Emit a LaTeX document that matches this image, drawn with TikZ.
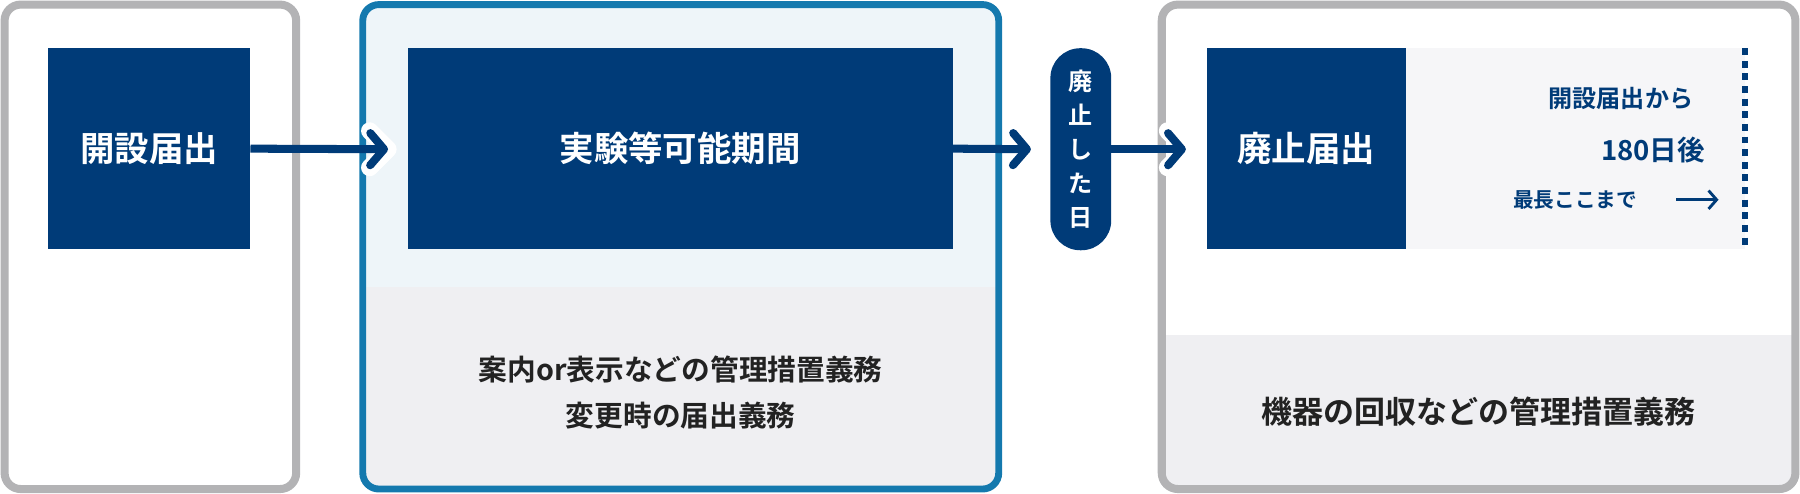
\documentclass[tikz,border=0pt]{standalone}
\usepackage{fontspec}
\setmainfont{Noto Sans CJK JP}[BoldFont={Noto Sans CJK JP Bold}]
\usetikzlibrary{arrows.meta}
\definecolor{navy}{HTML}{003B78}
\definecolor{gborder}{HTML}{B3B3B5}
\definecolor{bborder}{HTML}{1479AE}
\definecolor{lightblue}{HTML}{EEF5F9}
\definecolor{lightgray}{HTML}{EFEFF2}
\definecolor{panel}{HTML}{F6F6F8}
\definecolor{txt}{HTML}{222222}
\tikzset{
  navybox/.style={fill=navy,text=white,font=\bfseries\fontsize{30}{30}\selectfont},
  bigarrow/.style={navy,line width=7pt,-{Straight Barb[length=12pt,width=28pt,line width=7pt,round]}},
  halo/.style={white,line width=15pt,line cap=round,line join=round},
  bodytxt/.style={text=txt,font=\bfseries\fontsize{25}{40}\selectfont,align=center},
  paneltxt/.style={text=navy,font=\bfseries\fontsize{21}{21}\selectfont}
}
\begin{document}
\begin{tikzpicture}[x=1pt,y=-1pt]
\useasboundingbox (0,0) rectangle (1568,430);
% box 1
\draw[gborder,line width=7pt,fill=white,rounded corners=14pt] (4,4) rectangle (258,426);
\node[navybox,minimum width=176pt,minimum height=175pt,inner sep=0] (n1) at (130,129.5) {開設届出};
% box 2
\fill[lightgray,rounded corners=14pt] (316,4) rectangle (870,426);
\fill[lightblue,rounded corners=14pt] (316,4) rectangle (870,40);
\fill[lightblue] (316,20) rectangle (870,250);
\draw[bborder,line width=6pt,rounded corners=14pt] (316,4) rectangle (870,426);
\node[navybox,minimum width=475pt,minimum height=175pt,inner sep=0] (n2) at (592.5,129.5) {実験等可能期間};
\node[bodytxt] (t2) at (593,342) {案内or表示などの管理措置義務\\変更時の届出義務};
% box 3
\fill[white,rounded corners=14pt] (1012,4) rectangle (1564,426);
\fill[lightgray,rounded corners=14pt] (1012,292) rectangle (1564,426);
\fill[lightgray] (1012,292) rectangle (1564,400);
\draw[gborder,line width=7pt,rounded corners=14pt] (1012,4) rectangle (1564,426);
\fill[panel] (1225,42) rectangle (1520,217);
\node[navybox,minimum width=174pt,minimum height=175pt,inner sep=0] (n3) at (1138,129.5) {廃止届出};
\draw[navy,line width=5pt,dash pattern=on 6pt off 5pt] (1520,42) -- (1520,217);
\node[paneltxt] (p1) at (1412,86) {開設届出から};
\node[paneltxt,font=\bfseries\fontsize{24}{24}\selectfont] (p2) at (1440,131) {180日後};
\node[paneltxt,font=\bfseries\fontsize{18}{18}\selectfont] (p3) at (1372,174) {最長ここまで};
\coordinate (pa) at (1460,174);
\coordinate (pb) at (1497,174);
\draw[navy,line width=2.5pt,-{Straight Barb[length=7pt,width=16pt,line width=2.5pt]}] (pa) -- (pb);
\node[paneltxt,font=\bfseries\fontsize{27}{27}\selectfont] (p4) at (1288,359) {\color{txt}機器の回収などの管理措置義務};
% pill
\node[fill=navy,rounded corners=26pt,minimum width=53pt,minimum height=176pt,inner sep=0,text=white,align=center,font=\bfseries\fontsize{21}{29.5}\selectfont] (pill) at (941.5,130) {廃\\止\\し\\た\\日};
% arrows
\coordinate (a1e) at (338,130);
\coordinate (a2e) at (898,130);
\coordinate (a3e) at (1033,130);
\draw[halo] (322,114) -- (338,130) -- (322,146);
\draw[halo] (1017,114) -- (1033,130) -- (1017,146);
\draw[bigarrow] (n1.east) -- (a1e);
\draw[bigarrow] (n2.east) -- (a2e);
\draw[bigarrow] (pill.east) -- (a3e);
\end{tikzpicture}
\end{document}
